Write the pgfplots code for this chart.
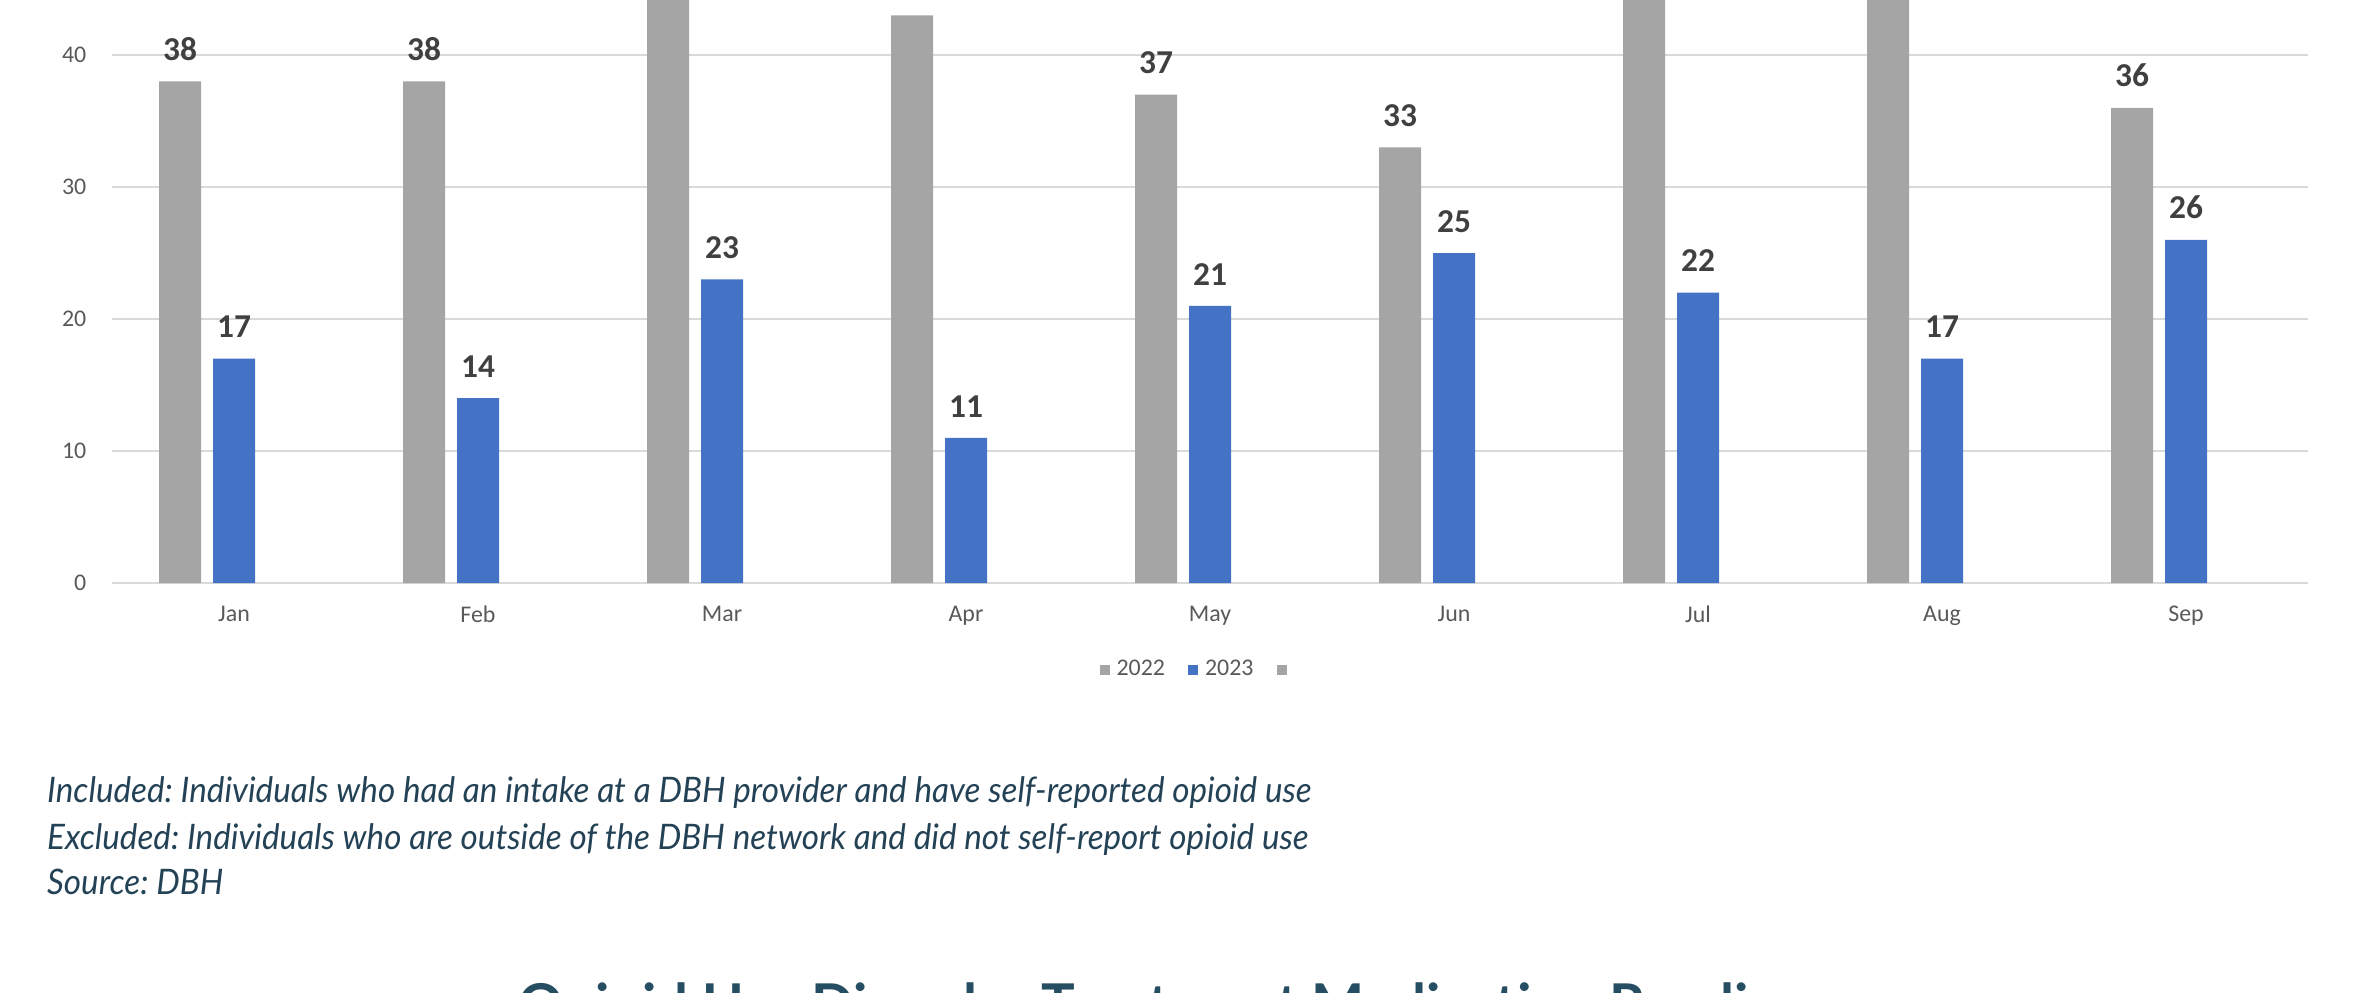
\documentclass[border=0pt]{standalone}
\usepackage{pgfplots}
\pgfplotsset{compat=1.18}
\usepackage{pgfplotstable}
\usepackage{fontspec}
\setmainfont{Carlito}
\newfontfamily\notefont[FakeStretch=0.945]{Lato}
\newfontfamily\titlefont{Lato}
\definecolor{g22}{RGB}{165,165,165}
\definecolor{b23}{RGB}{68,114,196}
\definecolor{gridc}{RGB}{217,217,217}
\definecolor{tickc}{RGB}{89,89,89}
\definecolor{labc}{RGB}{64,64,64}
\definecolor{notec}{RGB}{36,66,86}
\definecolor{titlec}{RGB}{38,78,98}

\pgfplotstableread{
x y22 y23
0 38 17
1 38 14
2 47 23
3 43 11
4 37 21
5 33 25
6 48 22
7 46 17
8 36 26
}\datatable

\begin{document}
\frenchspacing
\begin{tikzpicture}
\useasboundingbox (0,0) rectangle (23.55cm,-9.92cm);
\clip (0,0) rectangle (23.55cm,-9.92cm);
\begin{axis}[
  at={(1.12cm,-5.83cm)}, anchor=south west,
  scale only axis, width=21.96cm, height=7.92cm,
  xmin=-0.5, xmax=8.5, ymin=0, ymax=60,
  ybar, bar width=0.42cm,
  xtick={0,...,8},
  xticklabels={Jan,Feb,Mar,Apr,May,Jun,Jul,Aug,Sep},
  ytick={0,10,...,40},
  ymajorgrids, grid style={gridc, line width=0.6pt},
  axis line style={draw=none},
  major tick length=0pt,
  /pgf/number format/assume math mode=true,
  tick label style={font=\fontsize{6.8}{8}\selectfont, text=tickc},
  yticklabel style={inner sep=0pt, xshift=-0.25cm},
  xticklabel style={inner sep=0pt, yshift=-0.22cm},
  nodes near coords,
  every node near coord/.append style={font=\fontsize{9.5}{11}\selectfont\bfseries, text=labc, inner sep=0pt, anchor=south, yshift=0.2cm},
  legend columns=-1,
  legend style={at={(axis description cs:0.4955,-0.1098)}, anchor=center, draw=none, fill=none,
    font=\fontsize{6.8}{8}\selectfont, text=tickc,
    /tikz/every even column/.append style={column sep=0.16cm}},
  every axis plot post/.append style={legend image code/.code={\fill[##1] (0cm,-0.05cm) rectangle (0.1cm,0.05cm);}},
]
\addplot[fill=g22, draw=none, bar shift=-0.54cm] table[x=x,y=y22]{\datatable};
\addlegendentry{2022}
\addplot[fill=b23, draw=none, bar shift=0cm] table[x=x,y=y23]{\datatable};
\addlegendentry{2023}
\addlegendimage{fill=g22, draw=none}
\addlegendentry{}
\end{axis}
\node[anchor=base west, inner sep=0pt, font=\notefont\itshape\fontsize{10}{12}\selectfont, text=notec] at (0.465cm,-8.02cm) {Included: Individuals who had an intake at a DBH provider and have self-reported opioid use};
\node[anchor=base west, inner sep=0pt, font=\notefont\itshape\fontsize{10}{12}\selectfont, text=notec] at (0.465cm,-8.49cm) {Excluded: Individuals who are outside of the DBH network and did not self-report opioid use};
\node[anchor=base west, inner sep=0pt, font=\notefont\itshape\fontsize{10}{12}\selectfont, text=notec] at (0.465cm,-8.94cm) {Source: DBH};
\node[anchor=base west, inner sep=0pt, font=\titlefont\bfseries\fontsize{16}{18}\selectfont, text=titlec] at (5.18cm,-10.24cm) {Opioid Use Disorder Treatment Medication Readiness};
\end{tikzpicture}
\end{document}
